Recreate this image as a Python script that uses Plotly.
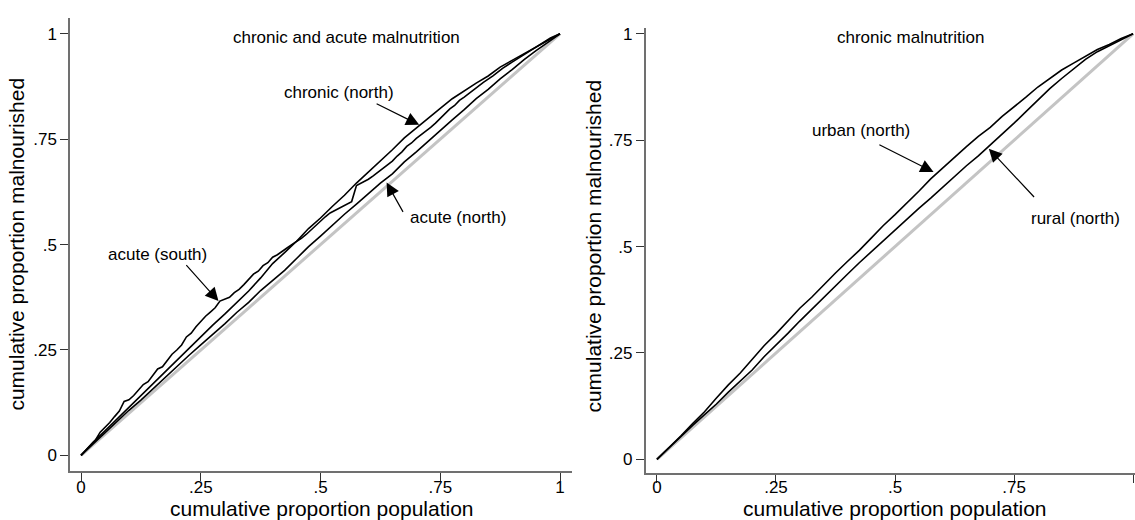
import plotly.graph_objects as go

# ---------------- data ----------------
tick_vals = [0, 0.25, 0.5, 0.75, 1]
tick_text = ["0", ".25", ".5", ".75", "1"]

diag = [0, 1]

# Left panel: chronic and acute malnutrition
acute_south_x = [0, .01, .02, .03, .04, .05, .06, .07, .08, .09, .10, .11, .12, .13, .14, .15, .16, .17, .18, .19,
                 .20, .21, .22, .23, .24, .25, .26, .27, .28, .29, .30, .31, .32, .33, .34, .35, .36, .37, .38, .39,
                 .40, .41, .42, .43, .44, .45, .46, .47, .48, .49, .50, .51, .52, .53, .54, .55, .56, .565, .575,
                 .59, .60, .61, .62, .63, .64, .65, .66, .67, .68, .69, .70, .71, .72, .73, .74, .75, .76, .77, .78,
                 .79, .80, .82, .84, .86, .88, .90, .92, .94, .96, .98, 1]
acute_south_y = [0, .012, .025, .036, .055, .066, .078, .092, .105, .128, .132, .142, .155, .168, .175, .19, .205, .21,
                 .225, .24, .25, .262, .281, .29, .305, .318, .33, .34, .35, .366, .37, .375, .386, .394, .405, .418,
                 .43, .437, .45, .457, .47, .476, .485, .492, .50, .507, .515, .524, .535, .545, .555, .566, .575,
                 .581, .588, .594, .598, .602, .64, .648, .655, .663, .672, .68, .69, .698, .71, .72, .733, .741, .752,
                 .76, .77, .778, .788, .80, .81, .822, .83, .842, .85, .868, .885, .90, .918, .933, .947, .963, .975,
                 .99, 1]

chronic_north_x = [0, .025, .05, .075, .10, .125, .15, .175, .20, .225, .25, .275, .30, .325, .35, .375, .40, .425,
                   .45, .475, .50, .525, .55, .575, .60, .625, .65, .675, .70, .725, .75, .775, .80, .825, .85, .875,
                   .90, .925, .95, .975, 1]
chronic_north_y = [0, .031, .058, .086, .114, .143, .17, .199, .227, .253, .281, .309, .335, .363, .39, .421, .455,
                   .481, .508, .538, .563, .591, .617, .646, .672, .699, .725, .753, .777, .801, .823, .846, .865, .883,
                   .90, .921, .937, .953, .968, .985, 1]

acute_north_x = [0, .025, .05, .075, .10, .125, .15, .175, .20, .225, .25, .275, .30, .325, .35, .375, .40, .425,
                 .45, .475, .50, .525, .55, .575, .60, .625, .65, .675, .70, .725, .75, .775, .80, .825, .85, .875,
                 .90, .925, .95, .975, 1]
acute_north_y = [0, .027, .054, .079, .107, .131, .158, .183, .21, .237, .262, .286, .312, .339, .363, .391, .415,
                 .439, .467, .495, .52, .547, .572, .596, .622, .646, .668, .696, .72, .746, .77, .796, .82, .846,
                 .868, .893, .915, .939, .96, .981, 1]

# Right panel: chronic malnutrition
urban_north_x = [0, .025, .05, .075, .10, .125, .15, .175, .20, .225, .25, .275, .30, .325, .35, .375, .40, .425,
                 .45, .475, .50, .525, .55, .575, .60, .625, .65, .675, .70, .725, .75, .775, .80, .825, .85, .875,
                 .90, .925, .95, .975, 1]
urban_north_y = [0, .027, .055, .084, .112, .144, .175, .203, .235, .267, .295, .326, .355, .381, .41, .438, .465,
                 .491, .52, .549, .575, .602, .63, .659, .685, .709, .735, .759, .78, .806, .828, .851, .875, .896,
                 .915, .931, .948, .963, .975, .989, 1]

rural_north_x = [0, .025, .05, .075, .10, .125, .15, .175, .20, .225, .25, .275, .30, .325, .35, .375, .40, .425,
                 .45, .475, .50, .525, .55, .575, .60, .625, .65, .675, .70, .725, .75, .775, .80, .825, .85, .875,
                 .90, .925, .95, .975, 1]
rural_north_y = [0, .027, .053, .08, .105, .13, .158, .185, .21, .241, .268, .296, .325, .353, .38, .407, .435, .462,
                 .488, .513, .54, .566, .59, .614, .64, .666, .69, .713, .738, .765, .79, .817, .845, .871, .895,
                 .917, .94, .958, .972, .986, 1]

FONT = "Liberation Sans, Arial, Helvetica, sans-serif"
W, H = 1135, 520

fig = go.Figure()

def line(x, y, xa, ya, color="black", width=1.6):
    fig.add_trace(go.Scatter(x=x, y=y, mode="lines", xaxis=xa, yaxis=ya,
                             line=dict(color=color, width=width), showlegend=False, hoverinfo="skip"))

# left
line(diag, diag, "x", "y", color="#c4c4c4", width=3)
line(acute_south_x, acute_south_y, "x", "y")
line(chronic_north_x, chronic_north_y, "x", "y")
line(acute_north_x, acute_north_y, "x", "y")
# right
line(diag, diag, "x2", "y2", color="#c4c4c4", width=3)
line(urban_north_x, urban_north_y, "x2", "y2")
line(rural_north_x, rural_north_y, "x2", "y2")

axis_common = dict(showline=True, linecolor="#707070", linewidth=1.5, ticks="outside", ticklen=8,
                   tickcolor="#333333", tickwidth=1, showgrid=False, zeroline=False,
                   tickvals=tick_vals, ticktext=tick_text,
                   tickfont=dict(family=FONT, size=17, color="black"))

fig.update_layout(
    width=W, height=H, margin=dict(l=0, r=0, t=0, b=0),
    paper_bgcolor="white", plot_bgcolor="white",
    xaxis=dict(domain=[70 / W, 572 / W], range=[-0.023, 1.025], anchor="y", ticklabelstandoff=-8, **axis_common),
    yaxis=dict(domain=[(H - 471) / H, (H - 15) / H], range=[-0.0377, 1.0377], anchor="x", **axis_common),
    xaxis2=dict(domain=[645.5 / W, 1.0], range=[-0.024, 1.004], anchor="y2", ticklabelstandoff=-10, **axis_common),
    yaxis2=dict(domain=[(H - 473) / H, (H - 25) / H], range=[-0.0327, 1.014], anchor="x2", **axis_common),
)

ann = []
def text(x, y, s, xr, yr, size=17):
    ann.append(dict(x=x, y=y, xref=xr, yref=yr, text=s, showarrow=False,
                    font=dict(family=FONT, size=size, color="black"), xanchor="center", yanchor="middle"))

def arrow(tx, ty, hx, hy, xr, yr):
    ann.append(dict(x=hx, y=hy, ax=tx, ay=ty, xref=xr, yref=yr, axref=xr, ayref=yr, text="",
                    showarrow=True, arrowhead=2, arrowsize=2.2, arrowwidth=1.2, arrowcolor="black", standoff=0))

# left panel labels
text(0.555, 0.991, "chronic and acute malnutrition", "x", "y")
text(0.539, 0.861, "chronic (north)", "x", "y")
text(0.787, 0.565, "acute (north)", "x", "y")
text(0.159, 0.476, "acute (south)", "x", "y")
arrow(0.614, 0.836, 0.706, 0.784, "x", "y")
arrow(0.674, 0.574, 0.638, 0.647, "x", "y")
arrow(0.217, 0.455, 0.287, 0.366, "x", "y")
# right panel labels
text(0.532, 0.991, "chronic malnutrition", "x2", "y2")
text(0.429, 0.773, "urban (north)", "x2", "y2")
text(0.878, 0.566, "rural (north)", "x2", "y2")
arrow(0.464, 0.741, 0.581, 0.675, "x2", "y2")
arrow(0.795, 0.613, 0.697, 0.730, "x2", "y2")

# axis titles
for cx, cy, s, ang in [(322, 508, "cumulative proportion population", 0),
                       (895, 508, "cumulative proportion population", 0),
                       (17, 243, "cumulative proportion malnourished", -90),
                       (594, 245, "cumulative proportion malnourished", -90)]:
    ann.append(dict(x=cx / W, y=1 - cy / H, xref="paper", yref="paper", text=s, showarrow=False,
                    textangle=ang, font=dict(family=FONT, size=21, color="black"),
                    xanchor="center", yanchor="middle"))

fig.update_layout(annotations=ann)
fig.write_html("out.html")
